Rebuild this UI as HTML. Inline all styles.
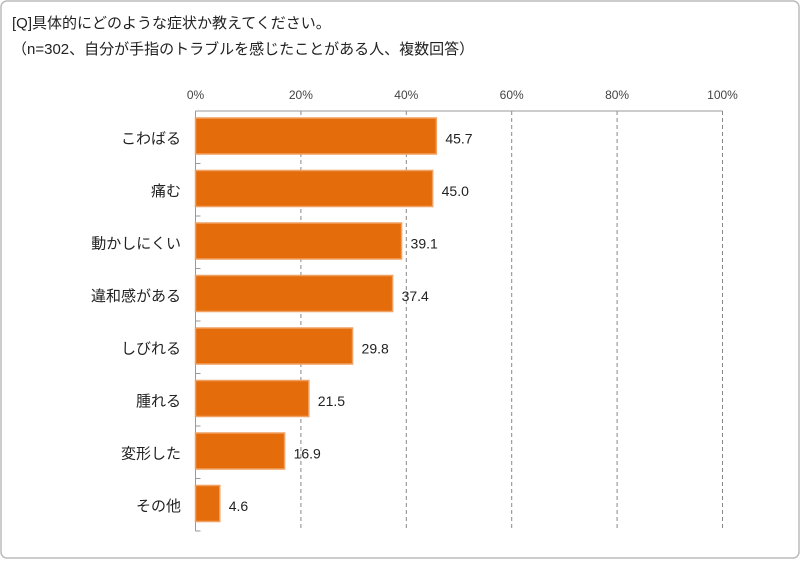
<!DOCTYPE html>
<html><head><meta charset="utf-8"><style>
body{margin:0;background:#fff;width:800px;height:560px;overflow:hidden;font-family:"Liberation Sans","Noto Sans CJK JP",sans-serif}
</style></head><body>
<svg width="800" height="560" font-family="Liberation Sans, Noto Sans CJK JP, sans-serif">
<rect x="1" y="1" width="798" height="557" rx="6" fill="#fff" stroke="#bbb" stroke-width="1.5"/>
<text x="12" y="28" font-size="15" fill="#222">[Q]具体的にどのような症状か教えてください。</text>
<text x="12" y="54" font-size="15" fill="#222">（n=302、自分が手指のトラブルを感じたことがある人、複数回答）</text>
<g id="plot"></g>
</svg>
<script>
const categories=["こわばる","痛む","動かしにくい","違和感がある","しびれる","腫れる","変形した","その他"];
const values=[45.7,45.0,39.1,37.4,29.8,21.5,16.9,4.6];
const ticks=[0,20,40,60,80,100];
const tickLabels=["0%","20%","40%","60%","80%","100%"];
const X0=195.5,X1=722.5,Y0=111,Y1=531;
const NS="http://www.w3.org/2000/svg";
const g=document.getElementById('plot');
const xs=v=>X0+(X1-X0)*v/100;
const band=(Y1-Y0)/categories.length;
function mk(t,a){const e=document.createElementNS(NS,t);for(const k in a)e.setAttribute(k,a[k]);g.appendChild(e);return e;}
ticks.forEach((t,i)=>{
  if(t>0){const l=mk('line',{x1:xs(t),x2:xs(t),y1:Y0,y2:Y1,stroke:'#888','stroke-dasharray':'4,3'});
  
  }
  const tx=mk('text',{x:xs(t),y:Y0-12,'font-size':12,fill:'#444','text-anchor':'middle'});
  tx.textContent=tickLabels[i];
  
  
});
const topAxis=mk('line',{x1:X0,x2:X1,y1:Y0,y2:Y0,stroke:'#999'});


const ax=mk('line',{x1:X0,x2:X0,y1:Y0,y2:Y1,stroke:'#999'});


categories.forEach((c,i)=>{
  const y=Y0+band*i;
  const tk=mk('line',{x1:X0,x2:X0+5,y1:y+band,y2:y+band,stroke:'#999'});
  
  
  const r=mk('rect',{x:X0,y:y+7,width:xs(values[i])-X0,height:36,fill:'#E46C0A',stroke:'#F0A060','stroke-width':1.5});
  
  
  const lb=mk('text',{x:181,y:y+band/2+6,'font-size':15,fill:'#222','text-anchor':'end'});
  lb.textContent=c;
  
  
  const vl=mk('text',{x:xs(values[i])+9,y:y+band/2+6,'font-size':14,fill:'#222'});
  vl.textContent=values[i].toFixed(1);
  
  
});
</script>
</body></html>
